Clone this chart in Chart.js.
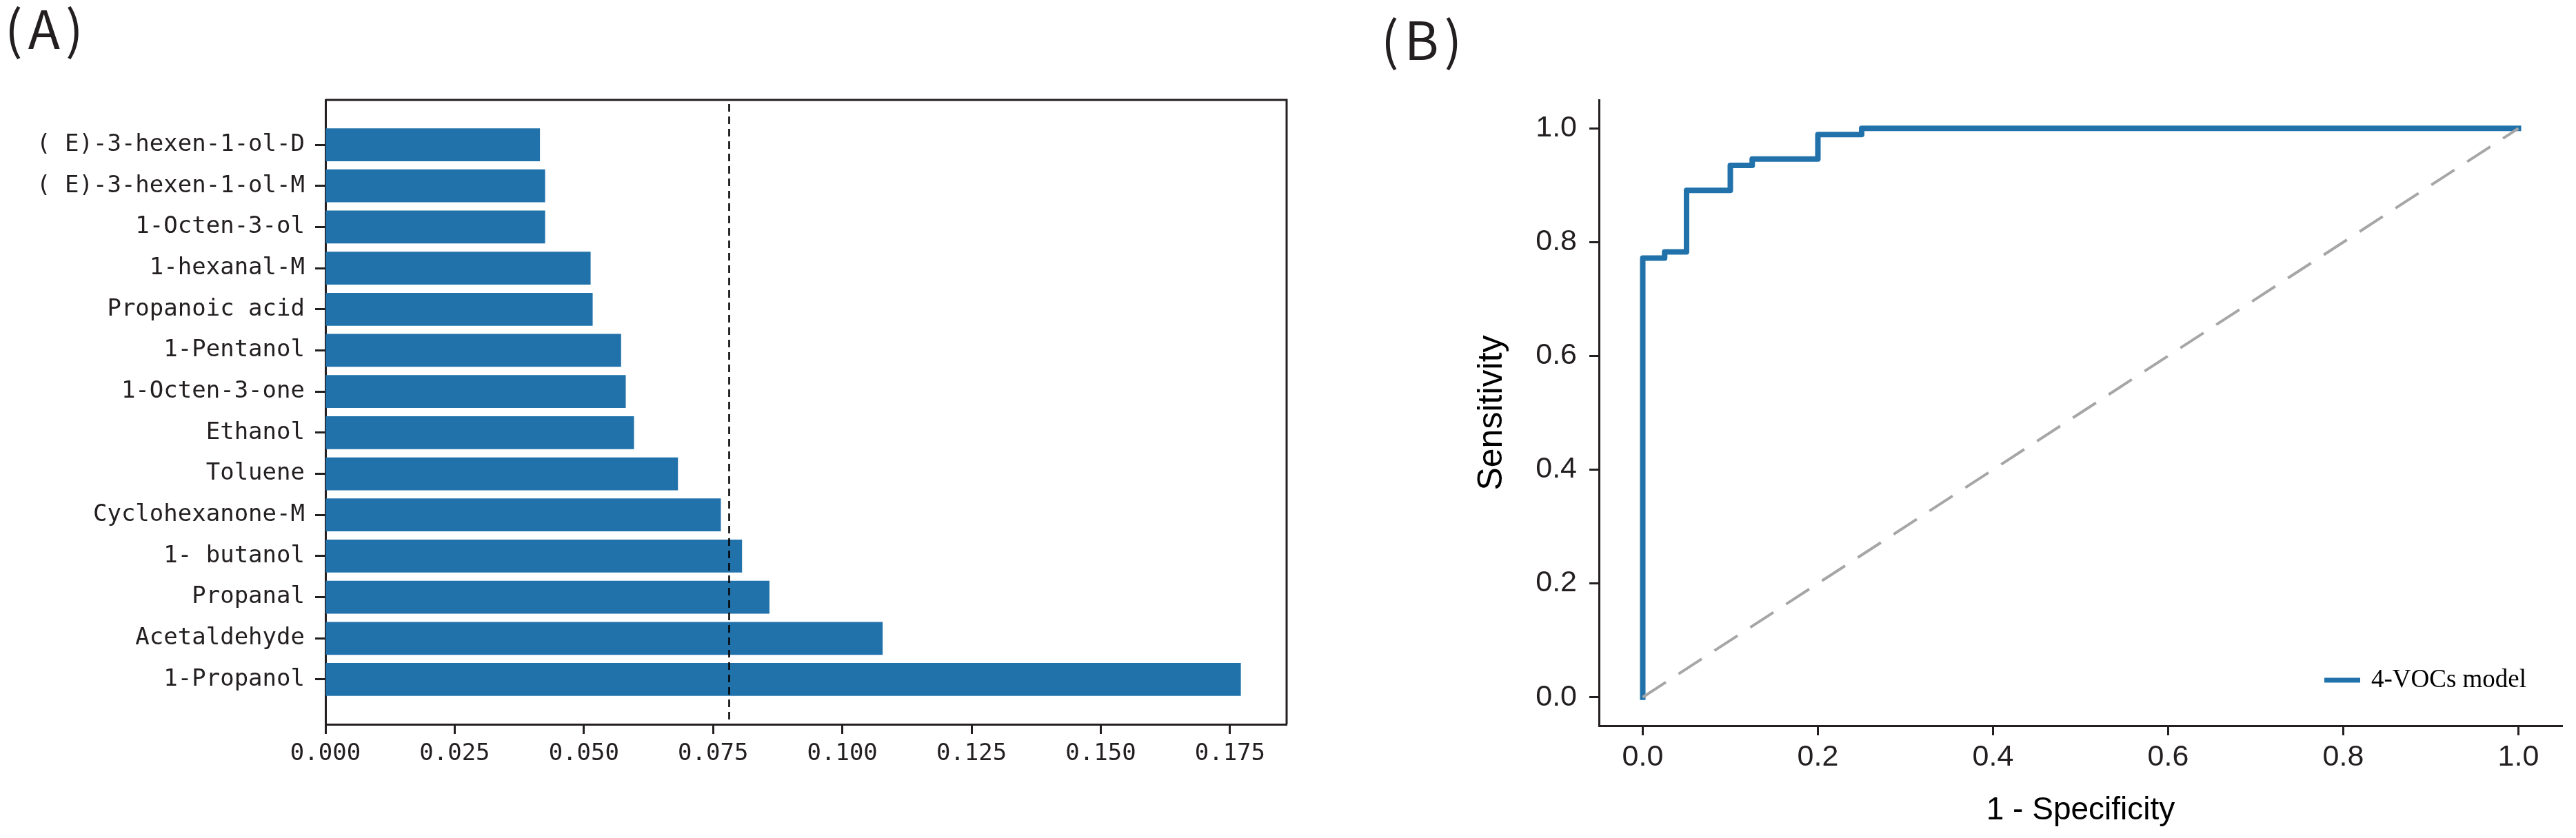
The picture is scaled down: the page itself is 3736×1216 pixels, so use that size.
<!DOCTYPE html>
<html>
<head>
<meta charset="utf-8">
<script src="https://cdn.jsdelivr.net/npm/chart.js@4.4.0/dist/chart.umd.min.js"></script>
<style>
  html, body { margin: 0; padding: 0; background: #fff; }
  #wrap { position: relative; width: 3736px; height: 1216px; }
  .panel { position: absolute; top: 0; height: 1216px; }
  #panelA { left: 0; width: 1900px; }
  #panelB { left: 1900px; width: 1836px; }
</style>
</head>
<body>
<div id="wrap">
  <div class="panel" id="panelA"><canvas id="importanceChart"></canvas></div>
  <div class="panel" id="panelB"><canvas id="rocChart"></canvas></div>
</div>
<script>
// Panel A - feature importance, listed bottom bar first (like barh)
const compounds = ['1-Propanol', 'Acetaldehyde', 'Propanal', '1- butanol', 'Cyclohexanone-M', 'Toluene',
  'Ethanol', '1-Octen-3-one', '1-Pentanol', 'Propanoic acid', '1-hexanal-M', '1-Octen-3-ol',
  '( E)-3-hexen-1-ol-M', '( E)-3-hexen-1-ol-D'];
const importance = [0.1771, 0.1078, 0.0859, 0.0806, 0.0765, 0.0682, 0.0597, 0.0581, 0.0572,
  0.0517, 0.0513, 0.0425, 0.0425, 0.0415];
const threshold = 0.0781;
const importanceTicks = [0, 0.025, 0.05, 0.075, 0.1, 0.125, 0.15, 0.175];

// Panel B - ROC curve (corner points)
const fpr = [0, 0, 0.025, 0.025, 0.05, 0.05, 0.1, 0.1, 0.125, 0.125, 0.2, 0.2, 0.25, 0.25, 1.0];
const tpr = [0, 0.772, 0.772, 0.783, 0.783, 0.891, 0.891, 0.935, 0.935, 0.946, 0.946, 0.989, 0.989, 1.0, 1.0];
const chance = [0, 1];
const rocTicks = [0, 0.2, 0.4, 0.6, 0.8, 1.0];

const ink = '#231f20';
const blue = '#2172aa';

// panel letter in the top-left corner of each canvas
const panelLabel = {
  id: 'panelLabel',
  afterDraw(chart, args, opts) {
    const ctx = chart.ctx;
    ctx.save();
    ctx.font = '76px "Noto Sans CJK SC"';
    ctx.letterSpacing = '8px';
    ctx.fillStyle = ink;
    ctx.textBaseline = 'alphabetic';
    ctx.fillText(opts.text, opts.x, opts.y);
    ctx.restore();
  }
};

// dashed threshold + top/right spines for panel A
const frameAndThreshold = {
  id: 'frameAndThreshold',
  afterDatasetsDraw(chart) {
    const { ctx, chartArea: a, scales: { x } } = chart;
    const px = x.getPixelForValue(threshold);
    ctx.save();
    ctx.strokeStyle = '#000';
    ctx.lineWidth = 2.5;
    ctx.setLineDash([11, 7]);
    ctx.beginPath();
    ctx.moveTo(px, a.top + 6);
    ctx.lineTo(px, a.bottom - 3);
    ctx.stroke();
    ctx.restore();
  },
  afterDraw(chart) {
    const { ctx, chartArea: a } = chart;
    ctx.save();
    ctx.strokeStyle = ink;
    ctx.lineWidth = 3;
    ctx.beginPath();
    ctx.moveTo(a.left, a.top);
    ctx.lineTo(a.right, a.top);
    ctx.lineTo(a.right, a.bottom);
    ctx.stroke();
    ctx.restore();
  }
};

// legend for the ROC curve, bottom right inside the axes
const rocLegend = {
  id: 'rocLegend',
  afterDraw(chart, args, opts) {
    const ds = chart.data.datasets[opts.datasetIndex];
    const { ctx, chartArea: a } = chart;
    const x0 = a.right - 345;
    const y0 = a.bottom - 66;
    ctx.save();
    ctx.strokeStyle = ds.borderColor;
    ctx.lineWidth = 7;
    ctx.beginPath();
    ctx.moveTo(x0, y0);
    ctx.lineTo(x0 + 52, y0);
    ctx.stroke();
    ctx.font = '37px "Liberation Serif"';
    ctx.fillStyle = '#000';
    ctx.textBaseline = 'alphabetic';
    ctx.fillText(ds.label, x0 + 68, y0 + 10);
    ctx.restore();
  }
};

const tickGrid = { display: true, offset: false, drawOnChartArea: false, drawTicks: true, tickLength: 14, tickWidth: 3, tickColor: ink };
const spine = { display: true, color: ink, width: 3 };

// Feature importance - horizontal bar chart
const yPad = 0.4 + 0.05 * (compounds.length - 1 + 0.8);
new Chart(document.getElementById('importanceChart'), {
  type: 'bar',
  data: {
    datasets: [{
      data: importance.map((v, i) => ({ x: v, y: i })),
      backgroundColor: blue,
      borderWidth: 0,
      barPercentage: 0.8,
      categoryPercentage: 1.0
    }]
  },
  options: {
    indexAxis: 'y',
    responsive: true,
    maintainAspectRatio: false,
    animation: false,
    layout: { padding: { top: 145, right: 34, left: 0, bottom: 0 } },
    plugins: {
      legend: { display: false },
      tooltip: { enabled: false },
      panelLabel: { text: '(A)', x: 7, y: 71 }
    },
    scales: {
      x: {
        type: 'linear',
        min: 0,
        max: Math.max(...importance) * 1.05,
        bounds: 'data',
        offset: false,
        afterBuildTicks: s => { s.ticks = importanceTicks.map(v => ({ value: v })); },
        afterFit: s => { s.height = 165; },
        ticks: {
          callback: v => v.toFixed(3),
          font: { family: '"DejaVu Sans Mono"', size: 34 },
          color: ink,
          padding: 9,
          maxRotation: 0,
          autoSkip: false
        },
        grid: tickGrid,
        border: spine
      },
      y: {
        type: 'linear',
        min: -yPad,
        max: compounds.length - 1 + yPad,
        bounds: 'data',
        offset: false,
        afterBuildTicks: s => { s.ticks = compounds.map((c, i) => ({ value: i })); },
        afterFit: s => { s.width = 472; },
        ticks: {
          callback: v => compounds[v],
          font: { family: '"DejaVu Sans Mono"', size: 34 },
          color: ink,
          padding: 15,
          autoSkip: false
        },
        grid: { ...tickGrid, tickLength: 15 },
        border: spine
      }
    }
  },
  plugins: [frameAndThreshold, panelLabel]
});

// ROC curve
new Chart(document.getElementById('rocChart'), {
  type: 'line',
  data: {
    datasets: [
      {
        label: 'chance',
        data: chance.map(v => ({ x: v, y: v })),
        borderColor: '#a6a6a6',
        borderWidth: 4,
        borderDash: [40, 22],
        pointRadius: 0,
        fill: false,
        order: 0
      },
      {
        label: '4-VOCs model',
        data: fpr.map((v, i) => ({ x: v, y: tpr[i] })),
        borderColor: blue,
        borderWidth: 8,
        borderCapStyle: 'square',
        borderJoinStyle: 'round',
        pointRadius: 0,
        tension: 0,
        fill: false,
        order: 1
      }
    ]
  },
  options: {
    responsive: true,
    maintainAspectRatio: false,
    animation: false,
    layout: { padding: { top: 145, right: 20, left: 0, bottom: 0 } },
    plugins: {
      legend: { display: false },
      tooltip: { enabled: false },
      panelLabel: { text: '(B)', x: 103, y: 87 },
      rocLegend: { datasetIndex: 1 }
    },
    scales: {
      x: {
        type: 'linear',
        min: -0.05,
        max: 1.05,
        bounds: 'data',
        offset: false,
        afterBuildTicks: s => { s.ticks = rocTicks.map(v => ({ value: v })); },
        afterFit: s => { s.height = 163; },
        ticks: {
          callback: v => v.toFixed(1),
          font: { family: '"Liberation Sans"', size: 43 },
          color: ink,
          padding: 6,
          maxRotation: 0
        },
        title: {
          display: true,
          text: '1 - Specificity',
          font: { family: '"Liberation Sans"', size: 46, lineHeight: 1.2 },
          color: '#000',
          padding: { top: 0, bottom: 12 }
        },
        grid: tickGrid,
        border: spine
      },
      y: {
        type: 'linear',
        min: -0.05,
        max: 1.05,
        bounds: 'data',
        offset: false,
        afterBuildTicks: s => { s.ticks = rocTicks.map(v => ({ value: v })); },
        afterFit: s => { s.width = 419; },
        ticks: {
          callback: v => v.toFixed(1),
          font: { family: '"Liberation Sans"', size: 43 },
          color: ink,
          padding: 18
        },
        title: {
          display: true,
          text: 'Sensitivity',
          font: { family: '"Liberation Sans"', size: 50, lineHeight: 1.2 },
          color: '#000',
          padding: { top: 234, bottom: 0 }
        },
        grid: tickGrid,
        border: spine
      }
    }
  },
  plugins: [rocLegend, panelLabel]
});
</script>
</body>
</html>
